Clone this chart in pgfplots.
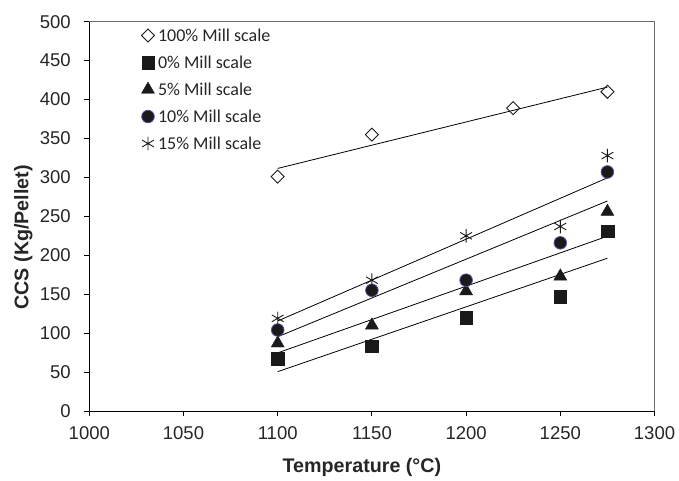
\documentclass[border=0pt]{standalone}
\usepackage{pgfplots}
\usepackage{pgfplotstable}
\pgfplotsset{compat=1.18}
\usepackage{fontspec}
\setmainfont{Liberation Sans}
\newfontfamily\legfont{Carlito}

\definecolor{markblack}{RGB}{26,26,26}
\definecolor{circedge}{RGB}{95,75,155}
\definecolor{framegray}{RGB}{110,110,110}

% CCS of pellets against firing temperature, one table per mill scale share
\pgfplotstableread{
x y
1100 301
1150 355
1225 389
1275 410
}\tHundred
\pgfplotstableread{
x y
1100 67
1150 83
1200 120
1250 147
1275 231
}\tZero
\pgfplotstableread{
x y
1100 87
1150 110
1200 154
1250 173
1275 256
}\tFive
\pgfplotstableread{
x y
1100 104
1150 155
1200 168
1250 216
1275 307
}\tTen
\pgfplotstableread{
x y
1100 119
1150 168
1200 225
1250 237
1275 328
}\tFifteen

\begin{document}
\begin{tikzpicture}
\begin{axis}[
  scale only axis,
  width=565.2pt, height=389.3pt,
  xmin=1000, xmax=1300, ymin=0, ymax=500,
  xtick={1000,1050,...,1300},
  ytick={0,50,...,500},
  axis x line*=bottom, axis y line*=left,
  axis line style={black, line width=0.9pt},
  tick align=outside,
  major tick length=5pt,
  tick style={black, line width=0.9pt},
  /pgf/number format/assume math mode=true,
  /pgf/number format/1000 sep={},
  ticklabel style={font=\fontsize{18.5}{20}\selectfont, text=black!85},
  xticklabel style={yshift=-7pt},
  yticklabel style={xshift=-10pt},
  xlabel={Temperature (°C)},
  ylabel={CCS (Kg/Pellet)},
  label style={font=\bfseries\fontsize{19.7}{22}\selectfont, text=black!85},
  xlabel style={at={(axis description cs:0.5,0)}, anchor=center, yshift=-56.5pt, xshift=-10pt},
  ylabel style={at={(axis description cs:0,0.5)}, anchor=center, yshift=66pt, xshift=-21pt},
  clip=false,
  legend style={draw=none, fill=none, at={(axis cs:1027.6,493.4)}, anchor=north west,
    font=\legfont\fontsize{18}{20}\selectfont, row sep=10pt,
    inner sep=0pt,
    nodes={inner sep=1.5pt, text=black!85},
    /tikz/every odd column/.append style={column sep=2pt}},
  legend cell align=left,
  legend image code/.code={\draw[#1] plot coordinates {(5pt,0pt)};},
]
% fitted trend lines
\addplot[black, line width=0.8pt, no marks, forget plot]
  table[x=x, y={create col/linear regression={y=y}}] {\tHundred};
\addplot[black, line width=0.8pt, no marks, forget plot]
  table[x=x, y={create col/linear regression={y=y}}] {\tZero};
\addplot[black, line width=0.8pt, no marks, forget plot]
  table[x=x, y={create col/linear regression={y=y}}] {\tFive};
\addplot[black, line width=0.8pt, no marks, forget plot]
  table[x=x, y={create col/linear regression={y=y}}] {\tTen};
\addplot[black, line width=0.8pt, no marks, forget plot]
  table[x=x, y={create col/linear regression={y=y}}] {\tFifteen};

% measured values
\addplot[only marks, mark=square, mark size=4.6pt,
  mark options={rotate=45, draw=markblack, fill=white, line width=0.9pt}]
  table[x=x, y=y] {\tHundred};
\addlegendentry{100\% Mill scale}
\addplot[only marks, mark=square*, mark size=6.3pt,
  mark options={draw=markblack, fill=markblack}]
  table[x=x, y=y] {\tZero};
\addlegendentry{0\% Mill scale}
\addplot[only marks, mark=triangle*, mark size=7.5pt,
  mark options={draw=markblack, fill=markblack}]
  table[x=x, y=y] {\tFive};
\addlegendentry{5\% Mill scale}
\addplot[only marks, mark=*, mark size=6.3pt,
  mark options={draw=circedge, fill=markblack, line width=0.8pt}]
  table[x=x, y=y] {\tTen};
\addlegendentry{10\% Mill scale}
\addplot[only marks, mark=asterisk, mark size=6.8pt,
  mark options={draw=markblack, line width=0.9pt}]
  table[x=x, y=y] {\tFifteen};
\addlegendentry{15\% Mill scale}

% plot area frame on the top and right
\draw[framegray, line width=0.9pt] (rel axis cs:0,1) -- (rel axis cs:1,1) -- (rel axis cs:1,0);
\end{axis}
\pgfresetboundingbox
\path[use as bounding box] ([shift={(-89.3pt,-70pt)}]current axis.south west)
  rectangle ([shift={(24.5pt,21.7pt)}]current axis.north east);
\end{tikzpicture}
\end{document}
